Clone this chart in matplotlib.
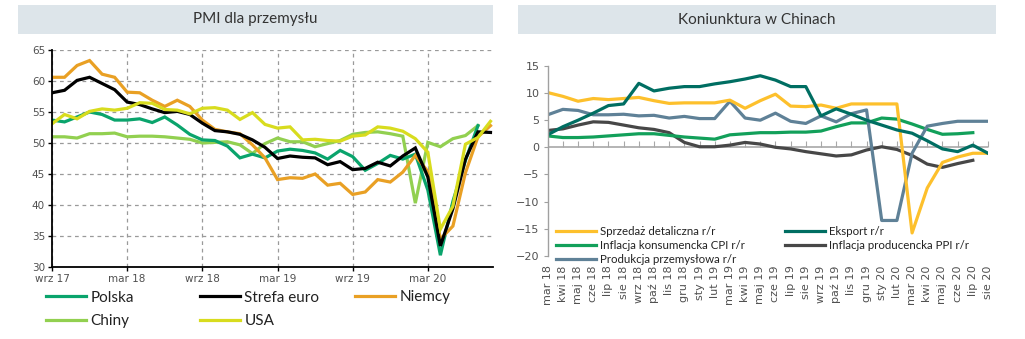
import matplotlib
matplotlib.use("Agg")
import matplotlib.pyplot as plt
from matplotlib.patches import Rectangle
from matplotlib.lines import Line2D

# PMI, wrz 17 - sie 20
pmi_ticks = ['wrz 17', 'mar 18', 'wrz 18', 'mar 19', 'wrz 19', 'mar 20']
polska = [53.7, 53.4, 54.2, 55.0, 54.6, 53.7, 53.7, 53.9, 53.3, 54.2, 52.9, 51.4,
          50.5, 50.4, 49.5, 47.6, 48.2, 47.6, 48.7, 49.0, 48.8, 48.4, 47.4, 48.8,
          47.8, 45.6, 46.7, 48.0, 47.4, 48.2, 42.4, 31.9, 40.6, 47.2, 52.8]
strefa_euro = [58.1, 58.5, 60.1, 60.6, 59.6, 58.6, 56.6, 56.2, 55.5, 54.9, 55.1, 54.6,
               53.2, 52.0, 51.8, 51.4, 50.5, 49.3, 47.5, 47.9, 47.7, 47.6, 46.5, 47.0,
               45.7, 45.9, 46.9, 46.3, 47.9, 49.2, 44.5, 33.4, 39.4, 47.4, 51.8, 51.7]
niemcy = [60.6, 60.6, 62.5, 63.3, 61.1, 60.6, 58.2, 58.1, 56.9, 55.9, 56.9, 55.9,
          53.7, 52.2, 51.8, 51.5, 49.7, 47.6, 44.1, 44.4, 44.3, 45.0, 43.2, 43.5,
          41.7, 42.1, 44.1, 43.7, 45.3, 48.0, 45.4, 34.5, 36.6, 45.2, 51.0, 52.8]
chiny = [51.0, 51.0, 50.8, 51.5, 51.5, 51.6, 51.0, 51.1, 51.1, 51.0, 50.8, 50.6,
         50.0, 50.1, 50.2, 49.7, 48.3, 49.9, 50.8, 50.2, 50.2, 49.4, 49.9, 50.4,
         51.4, 51.7, 51.8, 51.5, 51.1, 40.3, 50.1, 49.4, 50.7, 51.2, 52.8]
usa = [53.1, 54.6, 53.9, 55.1, 55.5, 55.3, 55.6, 56.5, 56.4, 55.4, 55.3, 54.7,
       55.6, 55.7, 55.3, 53.8, 54.9, 53.0, 52.4, 52.6, 50.5, 50.6, 50.4, 50.3,
       51.1, 51.3, 52.6, 52.4, 51.9, 50.7, 48.5, 36.1, 39.8, 49.8, 50.9, 53.5]

# Chiny, mar 18 - sie 20
miesiace = ['mar 18', 'kwi 18', 'maj 18', 'cze 18', 'lip 18', 'sie 18', 'wrz 18', 'paź 18',
            'lis 18', 'gru 18', 'sty 19', 'lut 19', 'mar 19', 'kwi 19', 'maj 19', 'cze 19',
            'lip 19', 'sie 19', 'wrz 19', 'paź 19', 'lis 19', 'gru 19', 'sty 20', 'lut 20',
            'mar 20', 'kwi 20', 'maj 20', 'cze 20', 'lip 20', 'sie 20']
sprzedaz = [10.1, 9.4, 8.5, 9.0, 8.8, 9.0, 9.2, 8.6, 8.1, 8.2, 8.2, 8.2, 8.7, 7.2, 8.6,
            9.8, 7.6, 7.5, 7.8, 7.2, 8.0, 8.0, 8.0, 8.0, -15.8, -7.5, -2.8, -1.8, -1.1, -1.1]
eksport = [2.3, 3.8, 5.0, 6.3, 7.7, 8.0, 11.8, 10.4, 10.9, 11.2, 11.2, 11.7, 12.1, 12.6, 13.2,
           12.4, 11.2, 11.2, 5.8, 7.1, 6.1, 5.0, 4.1, 3.2, 2.6, 1.2, -0.3, -0.8, 0.4, -1.1]
cpi = [2.1, 1.8, 1.8, 1.9, 2.1, 2.3, 2.5, 2.5, 2.2, 1.9, 1.7, 1.5, 2.3, 2.5, 2.7,
       2.7, 2.8, 2.8, 3.0, 3.8, 4.5, 4.5, 5.4, 5.2, 4.3, 3.3, 2.4, 2.5, 2.7]
ppi = [3.1, 3.4, 4.1, 4.7, 4.6, 4.1, 3.6, 3.3, 2.7, 0.9, 0.1, 0.1, 0.4, 0.9, 0.6,
       0.0, -0.3, -0.8, -1.2, -1.6, -1.4, -0.5, 0.1, -0.4, -1.5, -3.1, -3.7, -3.0, -2.4]
produkcja = [6.0, 7.0, 6.8, 6.0, 6.0, 6.1, 5.8, 5.9, 5.4, 5.7, 5.3, 5.3, 8.5, 5.4, 5.0,
             6.3, 4.8, 4.4, 5.8, 4.7, 6.2, 6.9, -13.5, -13.5, -1.1, 3.9, 4.4, 4.8, 4.8, 4.8]

tick_col = '#505050'
band_col = '#dde5ea'
lw = 2.3

fig = plt.figure(figsize=(10.25, 3.39), dpi=100)

# title bands
fig.patches.append(Rectangle((18/1025, 1-34/339), 475/1025, 29/339, transform=fig.transFigure,
                             facecolor=band_col, edgecolor='none', zorder=0))
fig.patches.append(Rectangle((518/1025, 1-34/339), 478/1025, 29/339, transform=fig.transFigure,
                             facecolor=band_col, edgecolor='none', zorder=0))
fig.text(255.5/1025, 1-19.5/339, 'PMI dla przemysłu', ha='center', va='center',
         fontsize=11, family='Lato', color='#333333')
fig.text(757/1025, 1-19.5/339, 'Koniunktura w Chinach', ha='center', va='center',
         fontsize=11, family='Lato', color='#333333')

# ---- PMI ----
ax = fig.add_axes([52/1025, 1-267/339, 441/1025, 217/339])
pmi_cols = {'Polska': '#0aa46c', 'Strefa euro': '#000000', 'Niemcy': '#e9a024',
            'Chiny': '#92d050', 'USA': '#d8dc1e'}
for name, vals in [('Chiny', chiny), ('Polska', polska), ('Niemcy', niemcy),
                   ('Strefa euro', strefa_euro), ('USA', usa)]:
    ax.plot(range(len(vals)), vals, color=pmi_cols[name], lw=lw, solid_joinstyle='miter')
ax.set_xlim(0, 35.2)
ax.set_ylim(30, 65)
ax.set_yticks(range(30, 66, 5))
ax.set_xticks(range(0, 36, 6))
ax.set_xticklabels(pmi_ticks)
ax.grid(True, color='#9a9a9a', ls=(0, (3, 3)), lw=0.9)
for s in ['top', 'right']:
    ax.spines[s].set_visible(False)
for s in ['left', 'bottom']:
    ax.spines[s].set_linewidth(1.3)
ax.tick_params(length=3, width=1, labelsize=7.5, labelcolor=tick_col, pad=2)

def col_legend(names, cols, x, y, size, lspace, hlen):
    hs = [Line2D([], [], color=cols[n], lw=lw) for n in names]
    leg = fig.legend(hs, names, loc='upper left', bbox_to_anchor=(x, y), frameon=False,
                     prop={'family': 'Lato', 'size': size}, labelspacing=lspace,
                     handlelength=hlen, handletextpad=0.3, borderpad=0, borderaxespad=0)
    for t in leg.get_texts():
        t.set_color('#222222')
    return leg

col_legend(['Polska', 'Chiny'], pmi_cols, 46/1025, 1-290.5/339, 11, 0.62, 2.6)
col_legend(['Strefa euro', 'USA'], pmi_cols, 200/1025, 1-290.5/339, 11, 0.62, 2.6)
col_legend(['Niemcy'], pmi_cols, 355/1025, 1-290.5/339, 11, 0.62, 2.6)

# ---- Chiny ----
ax2 = fig.add_axes([547.7/1025, 1-255.7/339, 440.3/1025, 189.7/339])
ch_cols = {'Sprzedaż detaliczna r/r': '#fdc02c', 'Eksport r/r': '#006e62',
           'Inflacja konsumencka CPI r/r': '#12a05a', 'Inflacja producencka PPI r/r': '#474747',
           'Produkcja przemysłowa r/r': '#5f8197'}
for name, vals in [('Inflacja producencka PPI r/r', ppi), ('Inflacja konsumencka CPI r/r', cpi),
                   ('Produkcja przemysłowa r/r', produkcja), ('Sprzedaż detaliczna r/r', sprzedaz),
                   ('Eksport r/r', eksport)]:
    ax2.plot(range(len(vals)), vals, color=ch_cols[name], lw=lw)
ax2.set_xlim(0, 29)
ax2.set_ylim(-20, 15)
ax2.set_yticks(range(-20, 16, 5))
ax2.set_xticks(range(len(miesiace)))
ax2.set_xticklabels(miesiace, rotation=90, va='top', ha='center')
for s in ['top', 'right', 'bottom']:
    ax2.spines[s].set_visible(False)
ax2.spines['left'].set_color('#a0a0a0')
ax2.spines['left'].set_linewidth(1)
ax2.tick_params(axis='y', length=3, color='#a0a0a0', labelsize=8, labelcolor=tick_col, pad=3)
ax2.tick_params(axis='x', length=0, labelsize=8, labelcolor=tick_col, pad=7)
ax2.axhline(0, color='#a8a8a8', lw=1.2, zorder=0)
sec = ax2.secondary_xaxis(20/35)
sec.set_xticks(range(len(miesiace)))
sec.tick_params(length=4, color='#a8a8a8', labelbottom=False, labeltop=False, direction='out')
sec.spines['bottom'].set_visible(False)
sec.spines['top'].set_visible(False)

col_legend(['Sprzedaż detaliczna r/r', 'Inflacja konsumencka CPI r/r', 'Produkcja przemysłowa r/r'],
           ch_cols, 556/1025, 1-226/339, 8.3, 0.26, 3.5)
col_legend(['Eksport r/r', 'Inflacja producencka PPI r/r'],
           ch_cols, 785/1025, 1-226/339, 8.3, 0.26, 3.5)

plt.savefig('out.png', dpi=100)
